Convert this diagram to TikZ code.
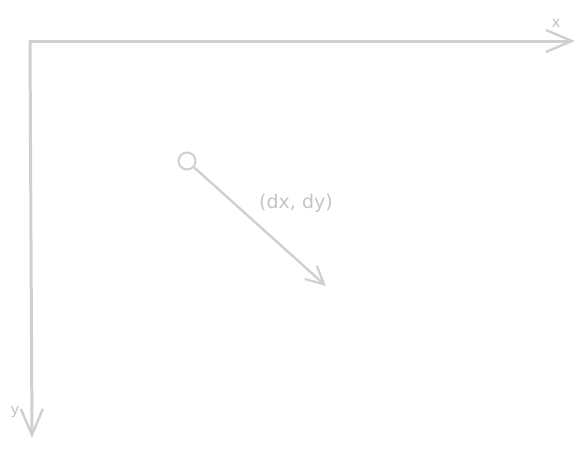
\documentclass[tikz,border=0pt]{standalone}
\usepackage{fontspec}
\setmainfont{DejaVu Sans}
\usetikzlibrary{arrows.meta}
\definecolor{axisgray}{HTML}{D0D0D0}
\definecolor{textgray}{HTML}{C4C4C4}
\begin{document}
\begin{tikzpicture}[x=1pt,y=-1pt,
  axis/.style={draw=axisgray,line width=3pt,line cap=round,line join=round,
    -{Straight Barb[length=26pt,width=22pt,line width=2.4pt]}},
  vec/.style={draw=axisgray,line width=2.4pt,line cap=round,
    -{Straight Barb[length=18pt,width=18pt,line width=2.2pt]}},
  lbl/.style={text=textgray,inner sep=0pt}]
\useasboundingbox (0,0) rectangle (584,450);
\coordinate (o) at (30,41);
\coordinate (xend) at (575,41);
\coordinate (yend) at (32,438);
\draw[axis] (o) -- (xend);
\draw[axis] (o) -- (yend);
\node[lbl,font=\fontsize{15}{16}\selectfont] (xl) at (556,23) {x};
\node[lbl,font=\fontsize{15}{16}\selectfont] (yl) at (15,412) {y};
\node[circle,draw=axisgray,line width=2pt,minimum size=17pt,inner sep=0pt] (p) at (187,161) {};
\coordinate (q) at (326,286);
\draw[vec] (p) -- (q);
\node[lbl,font=\fontsize{19}{21}\selectfont] (d) at (296,203) {(dx, dy)};
\end{tikzpicture}
\end{document}
